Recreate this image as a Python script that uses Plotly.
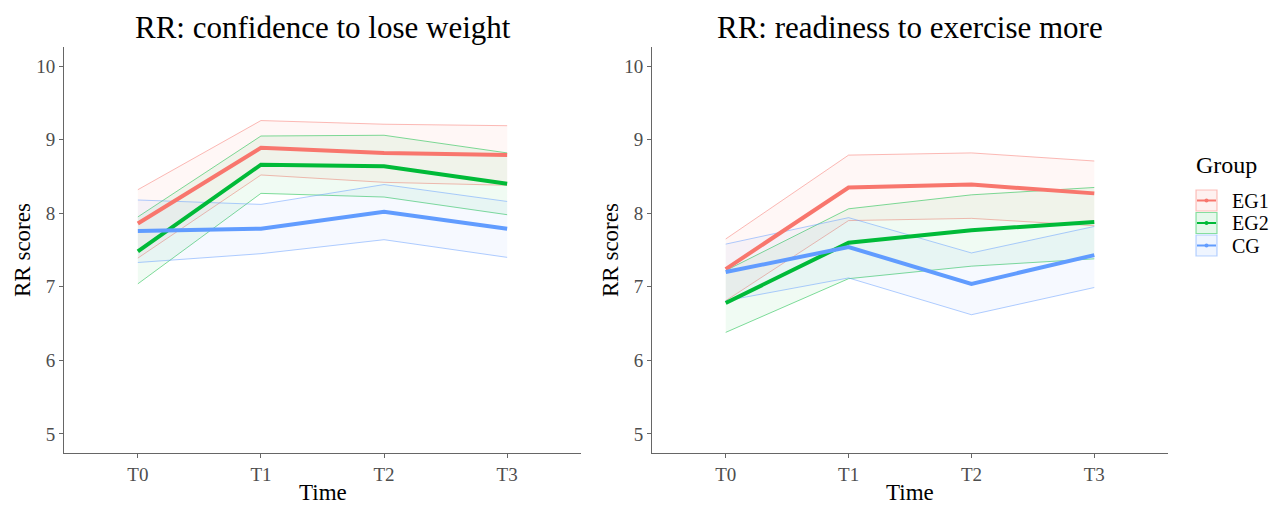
import plotly.graph_objects as go

times = ["T0", "T1", "T2", "T3"]
groups = ["EG1", "EG2", "CG"]
colors = {"EG1": "248,118,109", "EG2": "0,186,56", "CG": "97,156,255"}

# Panel 1: confidence to lose weight
conf_mean = {"EG1": [7.86, 8.89, 8.82, 8.79],
             "EG2": [7.48, 8.66, 8.64, 8.40],
             "CG":  [7.76, 7.79, 8.02, 7.79]}
conf_upper = {"EG1": [8.32, 9.26, 9.21, 9.19],
              "EG2": [7.95, 9.05, 9.06, 8.82],
              "CG":  [8.18, 8.12, 8.39, 8.16]}
conf_lower = {"EG1": [7.39, 8.52, 8.42, 8.38],
              "EG2": [7.04, 8.27, 8.22, 7.98],
              "CG":  [7.33, 7.45, 7.64, 7.40]}

# Panel 2: readiness to exercise more
ready_mean = {"EG1": [7.24, 8.35, 8.39, 8.27],
              "EG2": [6.78, 7.60, 7.77, 7.88],
              "CG":  [7.20, 7.54, 7.04, 7.43]}
ready_upper = {"EG1": [7.65, 8.79, 8.82, 8.71],
               "EG2": [7.22, 8.06, 8.25, 8.35],
               "CG":  [7.58, 7.94, 7.46, 7.82]}
ready_lower = {"EG1": [6.81, 7.90, 7.93, 7.83],
               "EG2": [6.38, 7.11, 7.28, 7.38],
               "CG":  [6.81, 7.12, 6.62, 6.99]}

titles = ["RR: confidence to lose weight", "RR: readiness to exercise more"]
y_ticks = [5, 6, 7, 8, 9, 10]

FONT = "Liberation Serif"
W, H = 1274, 505


def fx(px):
    return px / W


def fy(py):
    return 1 - py / H


fig = go.Figure()

panels = [(conf_mean, conf_upper, conf_lower, "x", "y"),
          (ready_mean, ready_upper, ready_lower, "x2", "y2")]

for mean, upper, lower, xa, ya in panels:
    for g in groups:
        c = colors[g]
        fig.add_trace(go.Scatter(x=times, y=lower[g], mode="lines", xaxis=xa, yaxis=ya,
                                 line=dict(color=f"rgba({c},0.5)", width=1),
                                 showlegend=False, hoverinfo="skip"))
        fig.add_trace(go.Scatter(x=times, y=upper[g], mode="lines", xaxis=xa, yaxis=ya,
                                 fill="tonexty", fillcolor=f"rgba({c},0.06)",
                                 line=dict(color=f"rgba({c},0.5)", width=1),
                                 showlegend=False, hoverinfo="skip"))
    for g in groups:
        c = colors[g]
        fig.add_trace(go.Scatter(x=times, y=mean[g], mode="lines", xaxis=xa, yaxis=ya,
                                 line=dict(color=f"rgb({c})", width=4),
                                 showlegend=False, name=g))

axis_common = dict(showgrid=False, zeroline=False, showline=True, linecolor="#666666",
                   linewidth=1, ticks="outside", ticklen=4, tickcolor="#666666",
                   tickfont=dict(family=FONT, size=19, color="#4D4D4D"))

ydom = [fy(453), fy(47)]
xdom1 = [fx(64), fx(581)]
xdom2 = [fx(652), fx(1168)]

annotations = []
for t, (a, b) in zip(titles, [(64, 581), (652, 1168)]):
    annotations.append(dict(text=t, x=fx((a + b) / 2), y=fy(27), xref="paper", yref="paper",
                            showarrow=False, font=dict(family=FONT, size=31, color="black"),
                            xanchor="center", yanchor="middle"))
    annotations.append(dict(text="Time", x=fx((a + b) / 2), y=fy(492), xref="paper", yref="paper",
                            showarrow=False, font=dict(family=FONT, size=23, color="black"),
                            xanchor="center", yanchor="middle"))
for xp in (22, 610):
    annotations.append(dict(text="RR scores", x=fx(xp), y=fy(250), xref="paper", yref="paper",
                            showarrow=False, textangle=-90,
                            font=dict(family=FONT, size=23, color="black"),
                            xanchor="center", yanchor="middle"))

# legend (drawn as key boxes like ggplot's)
shapes = []
annotations.append(dict(text="Group", x=fx(1194), y=fy(165), xref="paper", yref="paper",
                        showarrow=False, font=dict(family=FONT, size=24, color="black"),
                        xanchor="left", yanchor="middle"))
key_top, key_h = 190, 22.5
for i, g in enumerate(groups):
    c = colors[g]
    t = key_top + i * key_h
    b = t + key_h - 1.5
    m = (t + b) / 2
    shapes.append(dict(type="rect", xref="paper", yref="paper",
                       x0=fx(1196), x1=fx(1217), y0=fy(b), y1=fy(t),
                       fillcolor=f"rgba({c},0.1)", line=dict(color=f"rgba({c},0.45)", width=1.2)))
    shapes.append(dict(type="line", xref="paper", yref="paper",
                       x0=fx(1197), x1=fx(1216), y0=fy(m), y1=fy(m),
                       line=dict(color=f"rgb({c})", width=2)))
    shapes.append(dict(type="circle", xref="paper", yref="paper",
                       x0=fx(1204.5), x1=fx(1208.5), y0=fy(m + 2), y1=fy(m - 2),
                       fillcolor=f"rgb({c})", line=dict(width=0)))
    annotations.append(dict(text=g, x=fx(1230), y=fy(m), xref="paper", yref="paper",
                            showarrow=False, font=dict(family=FONT, size=20, color="black"),
                            xanchor="left", yanchor="middle"))

fig.update_layout(
    width=W, height=H,
    margin=dict(l=0, r=0, t=0, b=0),
    plot_bgcolor="white", paper_bgcolor="white",
    font=dict(family=FONT),
    showlegend=False,
    xaxis=dict(domain=xdom1, type="category", range=[-0.6, 3.6], **axis_common),
    xaxis2=dict(domain=xdom2, type="category", range=[-0.6, 3.6], anchor="y2", **axis_common),
    yaxis=dict(domain=ydom, range=[4.74, 10.26], tickvals=y_ticks, **axis_common),
    yaxis2=dict(domain=ydom, range=[4.74, 10.26], tickvals=y_ticks, anchor="x2", **axis_common),
    annotations=annotations,
    shapes=shapes,
)

fig.write_html("out.html", config={"displayModeBar": False},
               post_script="document.body.style.margin='0px';document.body.style.overflow='hidden';")
